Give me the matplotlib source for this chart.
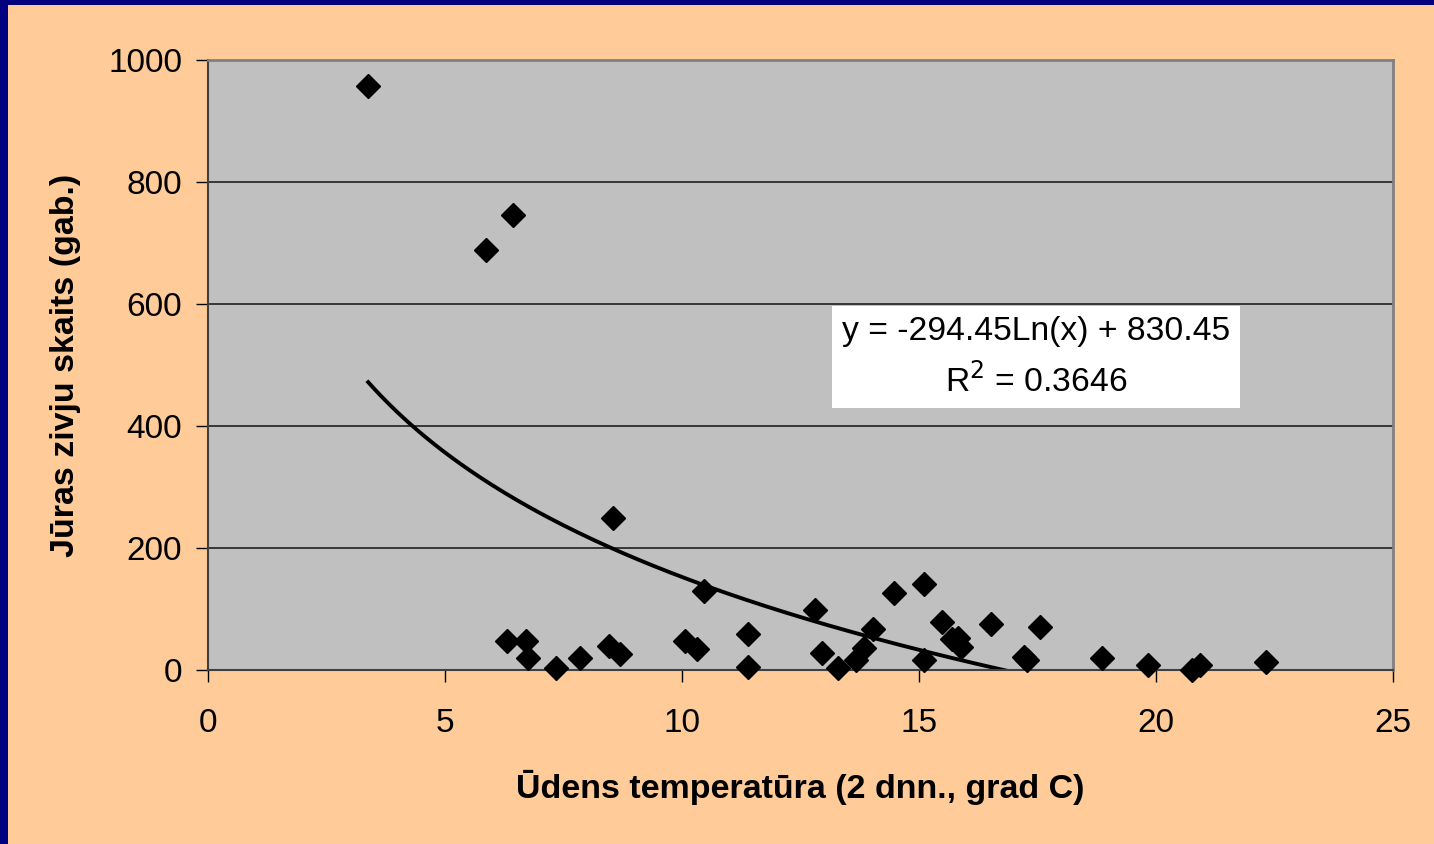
#!/usr/bin/env python
import numpy as np
import matplotlib
matplotlib.use('Agg')
import matplotlib.pyplot as plt
from matplotlib.patches import Rectangle

plt.rcParams['font.family'] = ['Liberation Sans', 'DejaVu Sans']

# water temperature (2 days), grad C
temp = [3.38, 5.86, 6.43, 6.31, 6.71, 6.75, 7.34, 7.85, 8.45, 8.69, 8.54,
        10.06, 10.31, 10.46, 11.39, 11.39, 12.81, 12.95, 13.30, 13.68, 13.83,
        14.04, 14.47, 15.11, 15.11, 15.49, 15.69, 15.83, 15.89, 16.52, 17.22,
        17.28, 17.55, 18.87, 19.84, 20.77, 20.93, 22.33]
# sea fish count
fish = [957, 689, 746, 48, 48, 20, 3, 20, 40, 27, 249,
        48, 34, 130, 59, 5, 98, 28, 4, 16, 36,
        68, 126, 141, 16, 79, 51, 52, 38, 75, 22,
        17, 71, 20, 8, 0, 8, 13]

a, b = -294.45, 830.45
eq_text = 'y = -294.45Ln(x) + 830.45\nR$^2$ = 0.3646'

fig = plt.figure(figsize=(14.34, 8.44), dpi=100)
fig.patch.set_facecolor('#FFCC99')
# navy slide border on left and top
fig.patches.append(Rectangle((0, 0), 8/1434, 1, transform=fig.transFigure,
                             facecolor='#000080', edgecolor='none'))
fig.patches.append(Rectangle((0, 1-5/844), 1, 5/844, transform=fig.transFigure,
                             facecolor='#000080', edgecolor='none'))

ax = fig.add_axes([208/1434, 1-670/844, (1393-208)/1434, (670-60)/844])
ax.set_facecolor('#C0C0C0')

xt = np.linspace(min(temp), max(temp), 300)
ax.plot(xt, a*np.log(xt) + b, color='black', lw=2.8, zorder=2)
ax.plot(temp, fish, 'D', color='black', ms=12, zorder=3, clip_on=False)

ax.set_xlim(0, 25)
ax.set_ylim(0, 1000)
ax.set_xticks(range(0, 26, 5))
ax.set_yticks(range(0, 1001, 200))
ax.yaxis.grid(True, color='#202020', lw=1.2)
ax.set_axisbelow(True)

for s in ['top', 'right']:
    ax.spines[s].set_color('#808080')
    ax.spines[s].set_linewidth(2)
ax.spines['left'].set_color('#404040')
ax.spines['bottom'].set_color('#404040')
ax.spines['left'].set_linewidth(1.5)
ax.spines['bottom'].set_linewidth(1.5)

ax.tick_params(axis='both', direction='out', length=8.5, width=1, color='black',
               labelsize=24)
ax.tick_params(axis='x', pad=19)
ax.tick_params(axis='y', pad=10)

ax.set_xlabel('Ūdens temperatūra (2 dnn., grad C)', fontsize=24.5, fontweight='bold',
              labelpad=22)
ax.set_ylabel('Jūras zivju skaits (gab.)', fontsize=24.5, fontweight='bold',
              labelpad=20)

ax.text(1036/1434, 1-357/844, eq_text, transform=fig.transFigure, fontsize=24.2,
        ha='center', va='center', linespacing=1.55,
        bbox=dict(boxstyle='square,pad=0.3', facecolor='white', edgecolor='none'))

plt.savefig('out.png', dpi=100, facecolor=fig.get_facecolor())
plt.close(fig)
